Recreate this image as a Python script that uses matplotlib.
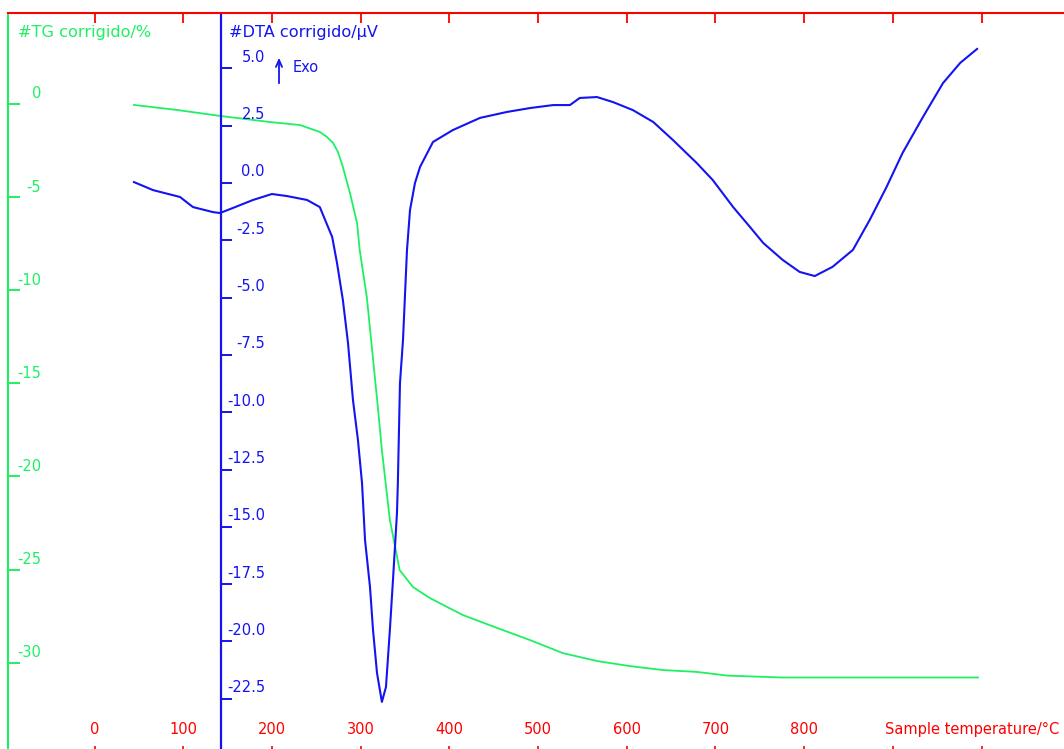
import matplotlib
matplotlib.use("Agg")
import matplotlib.pyplot as plt
import matplotlib.transforms as mtransforms

# ---------------- data ----------------
tg_temp = [44.5, 93, 141.5, 198, 231.7, 254, 261.8, 269, 274.5, 280, 288, 296, 299,
           307, 313, 319, 324, 330, 333, 339, 344, 359, 378, 415, 454, 491, 528,
           567, 604, 641, 679, 714, 775, 850, 920, 996]
tg_mass = [-0.05, -0.32, -0.64, -0.97, -1.13, -1.50, -1.76, -2.09, -2.58, -3.38,
           -4.78, -6.39, -7.84, -10.37, -13.21, -16.06, -18.58, -21.1, -22.34,
           -23.79, -25.03, -25.94, -26.53, -27.44, -28.14, -28.79, -29.49, -29.92,
           -30.19, -30.40, -30.50, -30.70, -30.80, -30.80, -30.80, -30.80]

dta_temp = [44.5, 66, 96.4, 111, 133.6, 141.5, 156, 178.7, 200, 217, 239.6, 254, 260,
            268, 273.4, 280, 285.8, 291.4, 297, 301.6, 305, 310.6, 314, 318.5, 324,
            328.6, 333, 336.5, 341, 342, 344.4, 347.8, 352.3, 355.7, 361.3, 367,
            381.6, 404, 434.6, 465, 491, 517, 536, 547, 566.5, 584.6, 607, 630, 652,
            679, 697, 720, 739, 754, 776, 795, 812, 832, 855, 874, 893, 911, 934,
            956.6, 976, 995]
dta_signal = [0.04, -0.31, -0.61, -1.05, -1.27, -1.31, -1.09, -0.74, -0.48, -0.57,
              -0.74, -1.05, -1.61, -2.36, -3.49, -5.10, -6.98, -9.47, -11.21, -13.09,
              -15.58, -17.63, -19.5, -21.38, -22.64, -21.99, -19.5, -17.32, -14.40,
              -13.09, -8.73, -6.85, -2.92, -1.18, 0.0, 0.70, 1.79, 2.31, 2.84, 3.10,
              3.27, 3.40, 3.40, 3.71, 3.75, 3.53, 3.18, 2.66, 1.88, 0.87, 0.13, -1.05,
              -1.92, -2.62, -3.36, -3.88, -4.06, -3.66, -2.92, -1.61, -0.17, 1.31,
              2.88, 4.36, 5.24, 5.85]

x_ticks = list(range(0, 1001, 100))
x_ticklabels = ["0", "100", "200", "300", "400", "500", "600", "700", "800"]
tg_ticks = [0, -5, -10, -15, -20, -25, -30]
tg_ticklabels = ["0", "-5", "-10", "-15", "-20", "-25", "-30"]
dta_ticks = [5.0, 2.5, 0.0, -2.5, -5.0, -7.5, -10.0, -12.5, -15.0, -17.5, -20.0, -22.5]
dta_ticklabels = ["5.0", "2.5", "0.0", "-2.5", "-5.0", "-7.5", "-10.0", "-12.5",
                  "-15.0", "-17.5", "-20.0", "-22.5"]

# ---------------- style ----------------
RED = "#ff0000"
GREEN = "#1ef064"
BLUE = "#1414f0"
plt.rcParams["font.family"] = ["DejaVu Sans"]

W, H = 1064, 749
fig = plt.figure(figsize=(W / 100, H / 100), dpi=100)
ax = fig.add_axes([0, 0, 1, 1])
ax.set_facecolor("white")

# axis scales (pixel geometry of the reference)
x0_px, x_per = 94.5, 0.887            # px of 0 degC, px per degC
tg0_px, tg_per = 104.0, 18.62         # px of 0 %, px per %
d0_px, d_per = 183.0, 22.92           # px of 0 uV, px per uV
ax.set_xlim(-x0_px / x_per, (W - x0_px) / x_per)
ax.set_ylim(-(H - tg0_px) / tg_per, tg0_px / tg_per)

ax2 = ax.twinx()
ax2.set_ylim((d0_px - H) / d_per, d0_px / d_per)

# ---- spines ----
for s in ["right", "bottom"]:
    ax.spines[s].set_visible(False)
for s in ["right", "bottom", "top"]:
    ax2.spines[s].set_visible(False)

ax.spines["top"].set_position(("axes", 1 - 13 / H))
ax.spines["top"].set_color(RED)
ax.spines["top"].set_linewidth(1.5)
ax.spines["top"].set_bounds((8 - x0_px) / x_per, (W - x0_px) / x_per)

ax.spines["left"].set_position(("axes", 8 / W))
ax.spines["left"].set_color(GREEN)
ax.spines["left"].set_linewidth(1.5)
ax.spines["left"].set_bounds(-(H - tg0_px) / tg_per, (tg0_px - 13) / tg_per)

ax2.spines["left"].set_visible(True)
ax2.spines["left"].set_position(("axes", 221 / W))
ax2.spines["left"].set_color(BLUE)
ax2.spines["left"].set_linewidth(1.6)
ax2.spines["left"].set_bounds((d0_px - H) / d_per, (d0_px - 15) / d_per)

# ---- ticks ----
ax.xaxis.set_ticks_position("top")
ax.set_xticks(x_ticks)
ax.tick_params(axis="x", direction="in", length=7.2, width=1.3, color=RED,
               labeltop=False, labelbottom=False)
sec = ax.secondary_xaxis("bottom")
sec.set_xticks(x_ticks)
sec.tick_params(axis="x", direction="in", length=2.5, width=1.2, color=RED,
                labelbottom=False)
sec.spines["bottom"].set_visible(False)

ax.set_yticks(tg_ticks)
ax.tick_params(axis="y", direction="in", length=8.6, width=1.4, color=GREEN,
               labelleft=False, labelright=False)
ax2.yaxis.set_ticks_position("left")
ax2.set_yticks(dta_ticks)
ax2.tick_params(axis="y", direction="in", length=7.9, width=1.4, color=BLUE,
                labelleft=False, labelright=False)

# ---- curves ----
ax.plot(tg_temp, tg_mass, color=GREEN, lw=1.3, solid_joinstyle="round")
ax2.plot(dta_temp, dta_signal, color=BLUE, lw=1.5, solid_joinstyle="round")

# ---- tick labels as text ----
fs_num = 10.5
tr_tg = mtransforms.blended_transform_factory(ax.transAxes, ax.transData)
for v, lab in zip(tg_ticks, tg_ticklabels):
    ax.annotate(lab, xy=(41 / W, v), xycoords=tr_tg, xytext=(0, 10),
                textcoords="offset pixels", ha="right", va="center",
                color=GREEN, fontsize=fs_num)
tr_d = mtransforms.blended_transform_factory(ax2.transAxes, ax2.transData)
for v, lab in zip(dta_ticks, dta_ticklabels):
    ax2.annotate(lab, xy=(265 / W, v), xycoords=tr_d, xytext=(0, 11),
                 textcoords="offset pixels", ha="right", va="center",
                 color=BLUE, fontsize=fs_num)
tr_x = mtransforms.blended_transform_factory(ax.transData, ax.transAxes)
for v, lab in zip(x_ticks, x_ticklabels):
    ax.text(v, 1 - 729 / H, lab, transform=tr_x, ha="center", va="center",
            color=RED, fontsize=fs_num)
ax.text(1059 / W, 1 - 729 / H, "Sample temperature/\u00b0C", transform=ax.transAxes,
        ha="right", va="center", color=RED, fontsize=fs_num)

# ---- axis titles ----
ax.text(18 / W, 1 - 33 / H, "#TG corrigido/%", transform=ax.transAxes,
        ha="left", va="center", color=GREEN, fontsize=11.6)
ax.text(229 / W, 1 - 33 / H, "#DTA corrigido/\u00b5V", transform=ax.transAxes,
        ha="left", va="center", color=BLUE, fontsize=11.6)
ax.annotate("", xy=(279 / W, 1 - 55 / H), xytext=(279 / W, 1 - 86 / H),
            xycoords="axes fraction", textcoords="axes fraction",
            arrowprops=dict(arrowstyle="->,head_length=0.5,head_width=0.22",
                            color=BLUE, lw=1.3))
ax.text(293 / W, 1 - 67 / H, "Exo", transform=ax.transAxes, ha="left",
        va="center", color=BLUE, fontsize=10.5)

fig.savefig("out.png", dpi=100, facecolor="white")
